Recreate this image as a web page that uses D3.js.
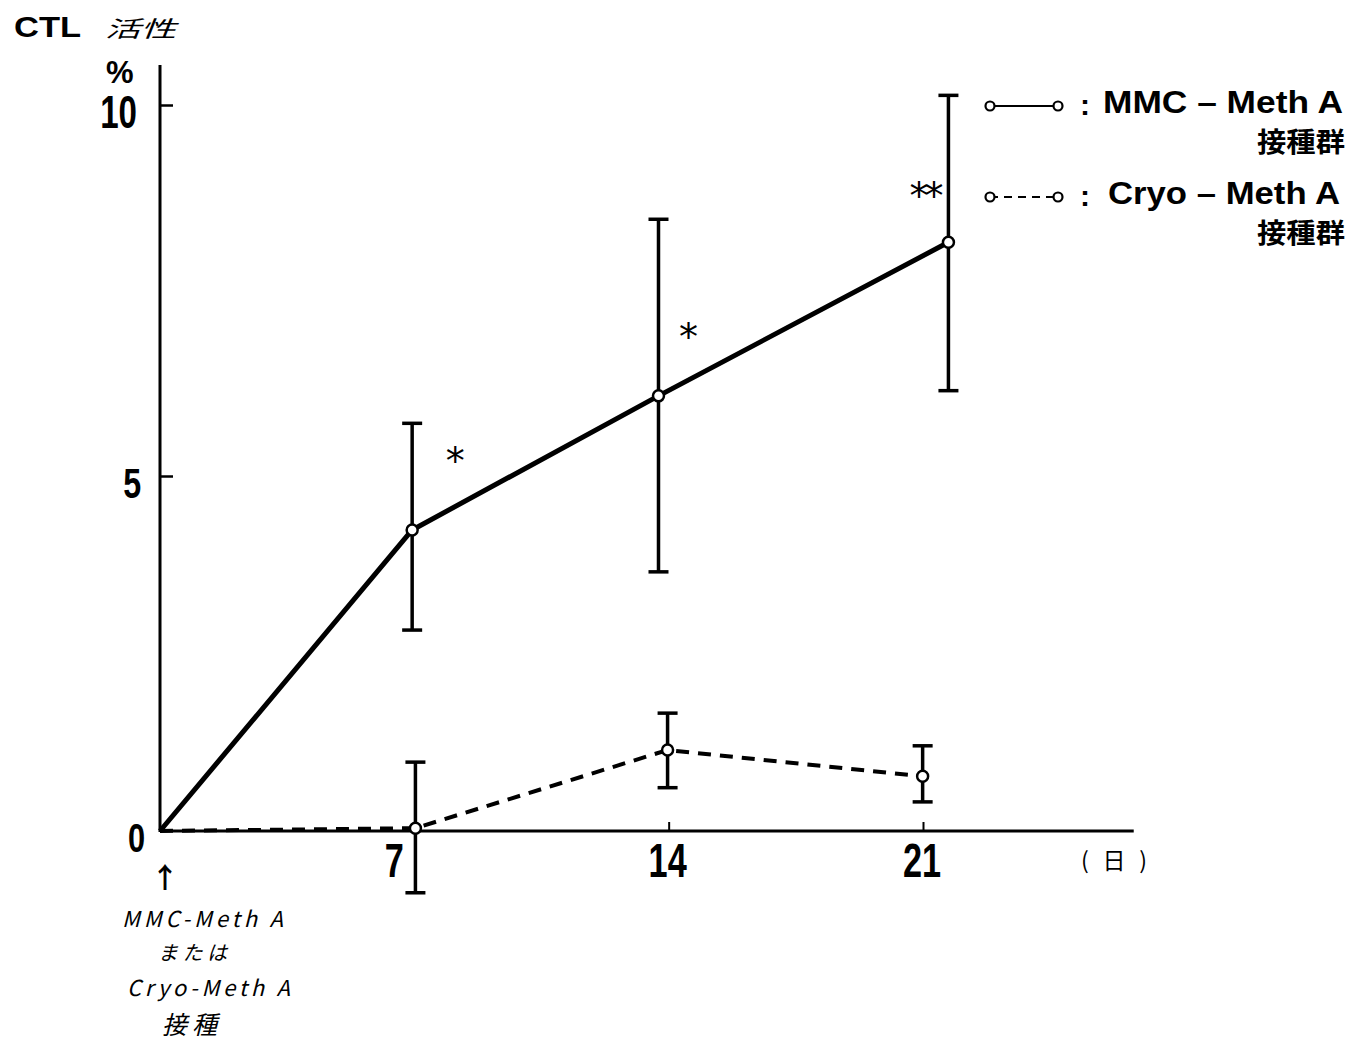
<!DOCTYPE html>
<html>
<head>
<meta charset="utf-8">
<script src="https://cdn.jsdelivr.net/npm/d3@7"></script>
<style>
  html, body { margin: 0; padding: 0; background: #fff; }
  svg { display: block; }
  .num { font-family: "Liberation Sans", Arial, sans-serif; font-weight: bold; fill: #000; }
  .bold { font-family: "Liberation Sans", Arial, sans-serif; font-weight: bold; fill: #000; }
  .jp { font-family: "Noto Sans CJK JP", sans-serif; fill: #000; }
  .star { font-family: "DejaVu Sans", sans-serif; fill: #000; }
  .hand { font-family: "Noto Sans CJK JP", sans-serif; font-weight: 400; font-style: italic; fill: #000; }
</style>
</head>
<body>
<svg id="chart" width="1364" height="1045"></svg>
<script>
// CTL activity (%) after inoculation, days 0–21
const xTicks = [7, 14, 21];
const yTicks = [0, 5, 10];

// MMC-Meth A inoculated group
const mmcDay   = [0, 6.94, 13.72, 21.7];
const mmcMean  = [0, 4.24, 6.08, 8.15];
const mmcUpper = [null, 5.71, 8.46, 10.13];
const mmcLower = [null, 2.83, 3.65, 6.15];
const mmcSig   = [null, "*", "*", "**"];

// Cryo-Meth A inoculated group
const cryoDay   = [0, 7.03, 13.97, 20.99];
const cryoMean  = [0, 0.04, 1.14, 0.77];
const cryoUpper = [null, 0.97, 1.66, 1.20];
const cryoLower = [null, -0.87, 0.61, 0.41];

const legendNames = ["MMC – Meth A", "Cryo – Meth A"];
const legendSub = "接種群";
const noteLines = ["MMC-Meth A", "または", "Cryo-Meth A", "接種"];

const svg = d3.select("#chart");
const x = d3.scaleLinear().domain([0, 21]).range([160, 923]);
// the printed axis is slightly uneven between its ticks
const y = d3.scaleLinear().domain([0, 5, 10]).range([831, 476, 105]);

// axes
const xEnd = x(26.8);
svg.append("line").attr("x1", x(0)).attr("x2", xEnd).attr("y1", y(0)).attr("y2", y(0))
  .attr("stroke", "#000").attr("stroke-width", 3);
svg.append("line").attr("x1", x(0)).attr("x2", x(0)).attr("y1", y(0) + 1).attr("y2", 65)
  .attr("stroke", "#000").attr("stroke-width", 3);

// y ticks point into the plot
const yAxis = d3.axisLeft(y).tickValues(yTicks.filter(d => d > 0)).tickSize(-13).tickFormat("");
const gy = svg.append("g").attr("transform", `translate(${x(0)},0)`).call(yAxis);
gy.select(".domain").remove();
gy.selectAll(".tick line").attr("stroke", "#000").attr("stroke-width", 2.5);

svg.selectAll(".ylab").data(yTicks).join("text")
  .attr("class", "num")
  .attr("text-anchor", "end")
  .attr("font-size", d => d === 10 ? 46 : (d === 5 ? 43 : 41))
  .attr("transform", d => {
    const xr = 145 - (y(0) - y(d)) * 0.011;
    const yb = y(d) + (d === 0 ? 21 : (d === 5 ? 22 : 23));
    return `translate(${xr},${yb}) scale(${d === 10 ? 0.72 : 0.75},1)`;
  })
  .text(d => d);

const xAxis = d3.axisBottom(x).tickValues(xTicks).tickSize(-9).tickFormat("");
const gx = svg.append("g").attr("transform", `translate(0,${y(0)})`).call(xAxis);
gx.select(".domain").remove();
gx.selectAll(".tick line").attr("stroke", "#000").attr("stroke-width", 2);

svg.selectAll(".xlab").data(xTicks).join("text")
  .attr("class", "num")
  .attr("text-anchor", "middle")
  .attr("font-size", 49)
  .attr("transform", d => `translate(${x(d) + (d === 7 ? -20 : -1)},${y(0) + 46}) scale(0.7,1)`)
  .text(d => d);

svg.append("text").attr("class", "jp").attr("x", 1081).attr("y", 869)
  .attr("font-size", 23).attr("textLength", 66).text("(日)");

// axis titles
svg.append("text").attr("class", "bold").attr("font-size", 30)
  .attr("transform", "translate(14,37) scale(1.15,1)").text("CTL");
svg.append("text").attr("class", "hand").attr("font-size", 33)
  .attr("transform", "translate(105,37) scale(1.08,0.68)").text("活性");
svg.append("text").attr("class", "bold").attr("x", 106).attr("y", 83)
  .attr("font-size", 31).text("%");

// series
function drawSeries(days, mean, upper, lower, dashed) {
  const pts = days.map((d, i) => ({ d, m: mean[i], u: upper[i], l: lower[i] }));
  const line = d3.line().x(p => x(p.d)).y(p => y(p.m));
  svg.append("path").datum(pts).attr("d", line)
    .attr("fill", "none").attr("stroke", "#000")
    .attr("stroke-width", dashed ? 4 : 5)
    .attr("stroke-dasharray", dashed ? "13,9" : null)
    .attr("stroke-linejoin", "round");
  const eb = pts.filter(p => p.u !== null);
  const g = svg.append("g");
  g.selectAll("line.v").data(eb).join("line")
    .attr("x1", p => x(p.d)).attr("x2", p => x(p.d))
    .attr("y1", p => y(p.u)).attr("y2", p => y(p.l))
    .attr("stroke", "#000").attr("stroke-width", 3.5);
  ["u", "l"].forEach(k => {
    g.selectAll("line.c" + k).data(eb).join("line")
      .attr("x1", p => x(p.d) - 10).attr("x2", p => x(p.d) + 10)
      .attr("y1", p => y(p[k])).attr("y2", p => y(p[k]))
      .attr("stroke", "#000").attr("stroke-width", 3.5);
  });
  g.selectAll("circle").data(eb).join("circle")
    .attr("cx", p => x(p.d)).attr("cy", p => y(p.m)).attr("r", 5.5)
    .attr("fill", "#fff").attr("stroke", "#000").attr("stroke-width", 2.5);
  return pts;
}
drawSeries(mmcDay, mmcMean, mmcUpper, mmcLower, false);
drawSeries(cryoDay, cryoMean, cryoUpper, cryoLower, true);

// significance marks beside MMC points
const sigOffset = [null, [41, -56], [28, -46], [-24, -33]];
svg.selectAll(".sig").data(mmcSig.map((s, i) => ({ s, i })).filter(o => o.s)).join("text")
  .attr("class", "star")
  .attr("x", o => x(mmcDay[o.i]) + sigOffset[o.i][0])
  .attr("y", o => y(mmcMean[o.i]) + sigOffset[o.i][1])
  .attr("text-anchor", "middle")
  .attr("font-size", 38)
  .attr("letter-spacing", -4)
  .text(o => o.s);

// legend
const legY = [106, 197];
legendNames.forEach((name, i) => {
  const ly = legY[i];
  svg.append("line").attr("x1", 990).attr("x2", 1058).attr("y1", ly).attr("y2", ly)
    .attr("stroke", "#000").attr("stroke-width", 2.2)
    .attr("stroke-dasharray", i === 1 ? "8,6" : null);
  [990, 1058].forEach(cx => svg.append("circle").attr("cx", cx).attr("cy", ly).attr("r", 4.5)
    .attr("fill", "#fff").attr("stroke", "#000").attr("stroke-width", 2.2));
  svg.append("text").attr("class", "bold").attr("x", 1080).attr("y", ly + 9)
    .attr("font-size", 30).text(":");
  const tx = i === 0 ? 1103 : 1108;
  const tw = i === 0 ? 240 : 232;
  svg.append("text").attr("class", "bold")
    .attr("font-size", 31)
    .attr("transform", `translate(${tx},${ly + 7}) scale(1.12,1)`)
    .attr("textLength", tw / 1.12)
    .attr("lengthAdjust", "spacingAndGlyphs")
    .text(name);
  svg.append("text").attr("class", "jp").attr("font-weight", "bold")
    .attr("x", 1257).attr("y", ly + 46)
    .attr("font-size", 27).attr("textLength", 88)
    .attr("lengthAdjust", "spacingAndGlyphs").text(legendSub);
});

// inoculation note under day 0
svg.append("text").attr("class", "jp").attr("x", x(0) + 5).attr("y", 888)
  .attr("text-anchor", "middle").attr("font-size", 28).attr("font-weight", "bold").text("↑");
const noteX = [122, 158, 127, 162];
const noteW = [161, 69, 163, 55];
const noteY = [927, 960, 996, 1034];
const noteSize = [22, 20, 22, 25];
noteLines.forEach((t, i) => {
  svg.append("text").attr("class", "hand").attr("x", noteX[i]).attr("y", noteY[i])
    .attr("font-size", noteSize[i]).attr("textLength", noteW[i]).text(t);
});
</script>
</body>
</html>
